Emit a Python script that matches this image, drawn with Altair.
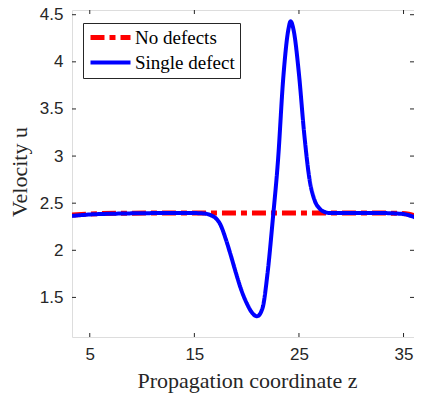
import altair as alt
import pandas as pd

# ---- data ----
series_names = ["No defects", "Single defect"]

z_nodef = [3.3, 5, 8, 12, 16, 20, 24, 28, 32, 34.5, 35.5, 36.2]
u_nodef = [2.375, 2.385, 2.393, 2.396, 2.396, 2.396, 2.396, 2.396, 2.396, 2.392, 2.383, 2.36]

z_single = [3.3, 5, 8, 12, 15, 16, 16.5, 17, 17.5, 18, 18.5, 19, 19.5, 20, 20.5, 21,
            21.5, 22, 22.5, 23, 23.5, 24, 24.2, 24.5, 25, 25.5, 26, 26.5, 27, 27.5,
            28, 30, 33, 35, 35.5, 36.2]
u_single = [2.365, 2.38, 2.39, 2.395, 2.395, 2.39, 2.375, 2.345, 2.27, 2.12, 1.94, 1.75,
            1.575, 1.44, 1.34, 1.30, 1.38, 1.76, 2.33, 2.96, 3.83, 4.35, 4.43, 4.33,
            3.87, 3.24, 2.76, 2.53, 2.44, 2.405, 2.395, 2.395, 2.395, 2.385, 2.372, 2.345]

x_ticks = [5, 15, 25, 35]
y_ticks = [1.5, 2, 2.5, 3, 3.5, 4, 4.5]

df = pd.concat([
    pd.DataFrame({"z": z_nodef, "u": u_nodef, "series": series_names[0]}),
    pd.DataFrame({"z": z_single, "u": u_single, "series": series_names[1]}),
], ignore_index=True)

W, H = 342, 327
TICK = 4
AXC = "#262626"
SERIF = "Liberation Serif"

xscale = alt.Scale(domain=[3.3, 36.0], nice=False, zero=False)
yscale = alt.Scale(domain=[1.08, 4.55], nice=False, zero=False)

xaxis = alt.Axis(values=x_ticks, title="Propagation coordinate z", ticks=False, domain=False,
                 grid=False, labelFont="Liberation Sans", labelFontSize=17, labelColor=AXC,
                 labelPadding=9, labelFlush=False, titleFont=SERIF, titleFontSize=22,
                 titleFontWeight="normal", titleColor=AXC, titleBaseline="alphabetic",
                 titleY=50, titleX=175)
yaxis = alt.Axis(values=y_ticks, format="~g", title="Velocity u", ticks=False, domain=False,
                 grid=False, labelFont="Liberation Sans", labelFontSize=17, labelColor=AXC,
                 labelPadding=9, labelFlush=False, titleFont=SERIF, titleFontSize=22,
                 titleFontWeight="normal", titleColor=AXC, titleBaseline="alphabetic",
                 titleAngle=-90, titleX=-46, titleY=H / 2 - 2, titleAlign="center")

lines = alt.Chart(df).mark_line(interpolate="monotone", clip=True).encode(
    x=alt.X("z:Q", scale=xscale, axis=xaxis),
    y=alt.Y("u:Q", scale=yscale, axis=yaxis),
    color=alt.Color("series:N",
                    scale=alt.Scale(domain=series_names, range=["#ff0000", "#0000ff"]),
                    legend=alt.Legend(orient="none", legendX=11, legendY=13, title=None,
                                      symbolType="stroke", symbolSize=1600,
                                      symbolStrokeWidth=4, labelFont=SERIF,
                                      labelFontSize=19, labelColor="black",
                                      strokeColor=AXC, fillColor="white", padding=5,
                                      rowPadding=5, labelOffset=2, clipHeight=19)),
    strokeDash=alt.StrokeDash("series:N",
                              scale=alt.Scale(domain=series_names,
                                              range=[[14, 5, 6, 5], [1, 0]])),
    strokeWidth=alt.StrokeWidth("series:N",
                                scale=alt.Scale(domain=series_names, range=[5, 4]),
                                legend=None),
)

xt = pd.DataFrame({"z": x_ticks})
yt = pd.DataFrame({"u": y_ticks})

tick_bottom = alt.Chart(xt).mark_rule(color=AXC, strokeWidth=1).encode(
    x=alt.X("z:Q", scale=xscale), y=alt.value(H), y2=alt.value(H - TICK))
tick_top = alt.Chart(xt).mark_rule(color=AXC, strokeWidth=1).encode(
    x=alt.X("z:Q", scale=xscale), y=alt.value(0), y2=alt.value(TICK))
tick_left = alt.Chart(yt).mark_rule(color=AXC, strokeWidth=1).encode(
    y=alt.Y("u:Q", scale=yscale), x=alt.value(0), x2=alt.value(TICK))
tick_right = alt.Chart(yt).mark_rule(color=AXC, strokeWidth=1).encode(
    y=alt.Y("u:Q", scale=yscale), x=alt.value(W), x2=alt.value(W - TICK))

chart = alt.layer(lines, tick_bottom, tick_top, tick_left, tick_right).properties(
    width=W, height=H,
    autosize=alt.AutoSizeParams(type="none"),
    padding={"left": 64, "top": 2, "right": 0, "bottom": 56},
).configure_view(stroke=AXC, strokeWidth=1).configure(background="white")

chart.save("out.html", embed_options={"renderer": "svg", "actions": False})
